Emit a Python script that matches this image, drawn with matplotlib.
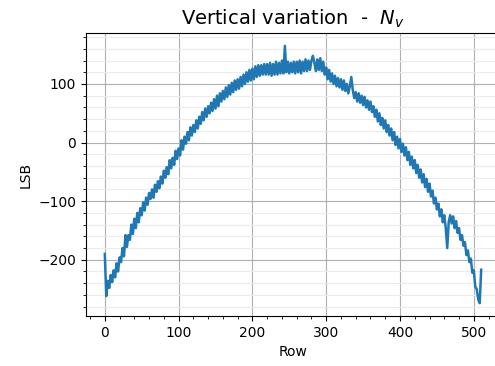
import numpy as np
import matplotlib.pyplot as plt
from matplotlib.ticker import MultipleLocator

# row index (every 2nd row) and the vertical variation in LSB
rows = np.arange(0, 512, 2)
lsb = [
    -190, -262, -236, -248, -226, -238, -218, -230, -206, -220,
    -196, -204, -180, -194, -158, -178, -158, -166, -140, -156,
    -130, -146, -120, -136, -112, -124, -102, -116, -94, -106,
    -86, -96, -80, -94, -72, -84, -66, -78, -58, -70,
    -48, -60, -42, -54, -30, -44, -26, -38, -14, -28,
    -10, -22, 4, -12, 10, -2, 18, 4, 26, 12,
    30, 18, 38, 24, 44, 32, 52, 38, 58, 44,
    62, 50, 68, 54, 74, 58, 80, 62, 84, 70,
    88, 74, 94, 78, 98, 82, 102, 86, 106, 90,
    108, 92, 112, 96, 116, 100, 120, 104, 124, 106,
    126, 108, 130, 112, 132, 114, 132, 116, 134, 116,
    134, 116, 136, 114, 134, 116, 138, 116, 136, 118,
    140, 118, 165, 120, 138, 118, 136, 120, 138, 118,
    138, 120, 140, 118, 138, 122, 142, 122, 140, 124,
    140, 148, 136, 122, 142, 124, 144, 122, 138, 116,
    128, 108, 124, 104, 118, 100, 114, 96, 110, 94,
    108, 90, 106, 88, 100, 84, 96, 112, 90, 76,
    86, 70, 84, 68, 80, 64, 78, 60, 72, 56,
    70, 52, 62, 44, 56, 36, 50, 30, 42, 24,
    38, 18, 30, 12, 24, 4, 18, -4, 10, -10,
    6, -16, -2, -22, -8, -30, -16, -38, -24, -44,
    -30, -52, -38, -60, -46, -68, -54, -76, -62, -84,
    -70, -92, -82, -104, -94, -114, -104, -126, -114, -136,
    -124, -146, -180, -136, -124, -138, -126, -146, -134, -154,
    -146, -166, -158, -176, -170, -192, -184, -204, -198, -222,
    -218, -246, -250, -268, -274, -217,
]

fig = plt.figure(figsize=(4.95, 3.66), dpi=100)
ax = fig.add_axes([0.1737, 0.1366, 0.8364, 0.7732])

ax.plot(rows, lsb, color='tab:blue', linewidth=1.8)

ax.xaxis.set_minor_locator(MultipleLocator(20))
ax.yaxis.set_minor_locator(MultipleLocator(20))
ax.grid(which='major', color='#b0b0b0', linewidth=0.8)
ax.grid(which='minor', axis='y', color='#ebebeb', linewidth=0.8)
ax.set_axisbelow(True)

ax.set_title('Vertical variation  -  $N_v$', fontsize=14)
ax.set_xlabel('Row')
ax.set_ylabel('LSB')

plt.savefig('out.png', dpi=100)
